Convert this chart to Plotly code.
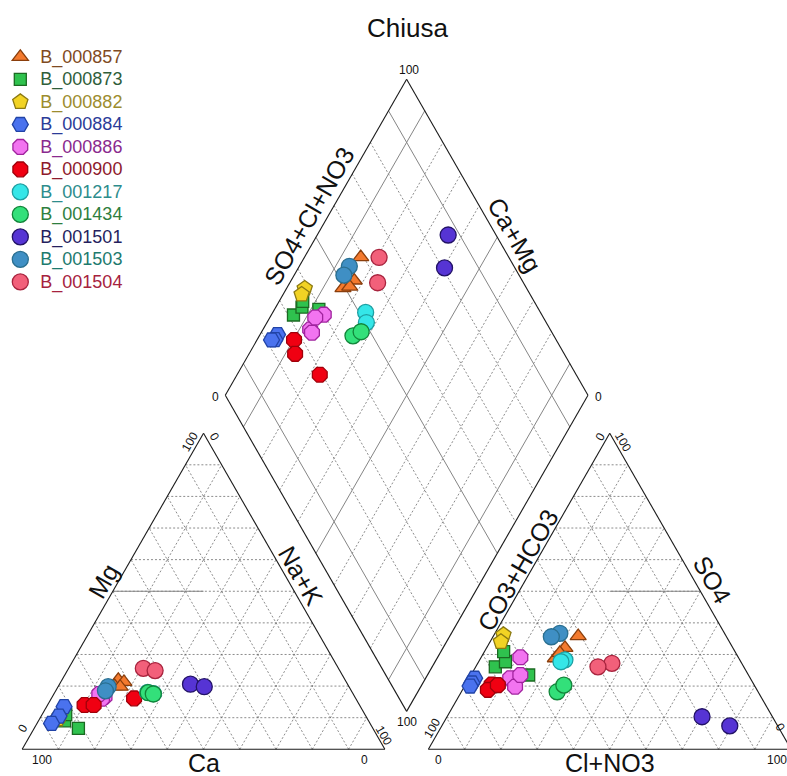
import numpy as np
import plotly.graph_objects as go

# ---------------- data (percent of meq) ----------------
sample_ids = ["B_000857", "B_000873", "B_000882", "B_000884", "B_000886", "B_000900",
              "B_001217", "B_001434", "B_001501", "B_001503", "B_001504"]

mg_pct = [[22.0, 21.3, 20.0, 19.8], [10.0, 9.0, 11.0, 6.6], [9.5, 10.5], [13.5, 10.5, 8.2],
          [16.6, 17.2, 16.0, 17.5], [14.0, 14.0, 16.1], [18.0, 17.6], [17.9, 17.5],
          [20.6, 19.8], [19.8, 18.5], [25.6, 24.9]]
nak_pct = [[15.5, 17.4, 15.5, 17.1], [6.1, 7.2, 6.5, 12.2], [5.0, 5.1], [4.8, 4.9, 4.0],
           [14.4, 13.0, 14.0, 12.5], [10.2, 12.7, 22.8], [25.6, 27.4], [25.8, 27.4],
           [36.1, 40.3], [13.8, 13.7], [20.6, 24.2]]
so4_pct = [[35.8, 32.1, 28.8, 30.5], [26.1, 27.7, 30.9, 23.5], [36.2, 34.0], [22.5, 21.0, 20.0],
           [29.1, 22.5, 19.8, 23.5], [20.5, 18.8, 20.3], [28.3, 27.7], [18.2, 20.3],
           [7.4, 10.3], [36.7, 35.6], [27.2, 26.1]]
clno3_pct = [[23.4, 21.6, 20.6, 21.0], [5.4, 7.4, 5.3, 15.9], [2.6, 3.0], [1.5, 1.5, 1.5],
             [10.8, 11.3, 14.0, 13.6], [7.2, 7.0, 9.0], [23.5, 22.7], [26.4, 27.2],
             [79.4, 70.3], [17.9, 16.1], [37.0, 33.7]]

symbols = ["triangle-up", "square", "pentagon", "hexagon2", "octagon", "octagon",
           "circle", "circle", "circle", "circle", "circle"]
sizes = [14, 12, 16, 16, 16, 16, 16, 16, 16, 16, 16]
fills = ["#F37A2E", "#2FC24E", "#F2D324", "#4A72EE", "#F274F0", "#F00012",
         "#35E6E8", "#33E07A", "#5634D4", "#3F8FC4", "#F2607A"]
edges = ["#8A3E0C", "#1B6A22", "#8C7A12", "#2143A6", "#A0239E", "#A0000A",
         "#1E9FA2", "#12853A", "#221266", "#2A6F90", "#A8243E"]
label_colors = ["#7F4A22", "#2F5E3A", "#9C8C2E", "#2B3B98", "#8A2A8E", "#8E1A2C",
                "#2D8C8C", "#2E7E3E", "#251F5E", "#1D7A6E", "#A6223E"]

# ---------------- geometry ----------------
S3 = np.sqrt(3) / 2
GAP = 12.0
OX = 100 + GAP


def cat_xy(mg, nak):
    mg = np.asarray(mg); nak = np.asarray(nak)
    return nak + mg / 2, mg * S3


def an_xy(so4, cl):
    so4 = np.asarray(so4); cl = np.asarray(cl)
    return OX + cl + so4 / 2, so4 * S3


def dia_xy(nak, s):
    nak = np.asarray(nak); s = np.asarray(s)
    return (nak + OX + s) / 2, S3 * (OX + s - nak)


fig = go.Figure()


def add_lines(segs, color, width, dash):
    xs, ys = [], []
    for (x0, y0), (x1, y1) in segs:
        xs += [x0, x1, None]
        ys += [y0, y1, None]
    fig.add_trace(go.Scatter(x=xs, y=ys, mode="lines", hoverinfo="skip", showlegend=False,
                             line=dict(color=color, width=width, dash=dash)))


def p(f, *a):
    x, y = f(*a)
    return float(x), float(y)


DIA_SOLID = (10, 50, 90)
grid = []
for k in range(10, 100, 10):
    # cation triangle
    grid.append((p(cat_xy, k, 0), p(cat_xy, k, 100 - k)))       # Mg = k
    grid.append((p(cat_xy, 0, k), p(cat_xy, 100 - k, k)))       # Na = k
    grid.append((p(cat_xy, 0, 100 - k), p(cat_xy, 100 - k, 0)))  # Ca = k
    # anion triangle
    grid.append((p(an_xy, k, 0), p(an_xy, k, 100 - k)))
    grid.append((p(an_xy, 0, k), p(an_xy, 100 - k, k)))
    grid.append((p(an_xy, 0, 100 - k), p(an_xy, 100 - k, 0)))
    # diamond
    if k not in DIA_SOLID:
        grid.append((p(dia_xy, k, 0), p(dia_xy, k, 100)))
        grid.append((p(dia_xy, 0, k), p(dia_xy, 100, k)))
add_lines(grid, "#6e6e6e", 0.8, "2px,2px")

solid = [(p(cat_xy, 50, 0), p(cat_xy, 50, 25)),
         (p(an_xy, 50, 25), p(an_xy, 50, 50))]
for k in DIA_SOLID:
    solid.append((p(dia_xy, k, 0), p(dia_xy, k, 100)))
    solid.append((p(dia_xy, 0, k), p(dia_xy, 100, k)))
add_lines(solid, "#858585", 1.0, "solid")

outline = [
    (p(cat_xy, 0, 0), p(cat_xy, 0, 100)), (p(cat_xy, 0, 100), p(cat_xy, 100, 0)),
    (p(cat_xy, 100, 0), p(cat_xy, 0, 0)),
    (p(an_xy, 0, 0), p(an_xy, 0, 100)), (p(an_xy, 0, 100), p(an_xy, 100, 0)),
    (p(an_xy, 100, 0), p(an_xy, 0, 0)),
    (p(dia_xy, 100, 0), p(dia_xy, 0, 0)), (p(dia_xy, 0, 0), p(dia_xy, 0, 100)),
    (p(dia_xy, 0, 100), p(dia_xy, 100, 100)), (p(dia_xy, 100, 100), p(dia_xy, 100, 0)),
]
add_lines(outline, "#1a1a1a", 1.1, "solid")

# ---------------- samples ----------------
for i, sid in enumerate(sample_ids):
    mg = np.array(mg_pct[i]); na = np.array(nak_pct[i])
    so4 = np.array(so4_pct[i]); cl = np.array(clno3_pct[i])
    cx, cy = cat_xy(mg, na)
    ax, ay = an_xy(so4, cl)
    dx, dy = dia_xy(na, so4 + cl)
    fig.add_trace(go.Scatter(
        x=np.concatenate([cx, ax, dx]), y=np.concatenate([cy, ay, dy]),
        mode="markers", cliponaxis=False,
        name=f"<span style='color:{label_colors[i]};font-size:18px'>{sid}</span>",
        marker=dict(symbol=symbols[i], size=sizes[i], color=fills[i],
                    line=dict(color=edges[i], width=1.3)),
    ))

# ---------------- text ----------------
FONT = "Arial, Liberation Sans, sans-serif"
PX = 3.65
X0 = 17.3
Y0 = 749.3


def tx(px):
    return (px - X0) / PX


def ty(py):
    return (Y0 - py) / PX


ann = []


def label(px, py, text, size, angle=0):
    ann.append(dict(x=tx(px), y=ty(py), xref="x", yref="y", text=text, showarrow=False,
                    textangle=angle, font=dict(family=FONT, size=size, color="#111111"),
                    xanchor="center", yanchor="middle"))


label(405, 28, "Chiusa", 26)
label(306, 216, "SO4+Cl+NO3", 25, -60)
label(513, 235, "Ca+Mg", 25, 60)
label(99, 581, "Mg", 25, -60)
label(298, 576, "Na+K", 25, 60)
label(200, 763, "Ca", 25)
label(516, 570, "CO3+HCO3", 25, -60)
label(712, 580, "SO4", 25, 60)
label(609, 763, "Cl+NO3", 25)

T = 12
label(407, 70, "100", T)
label(212, 397, "0", T)
label(597, 397, "0", T)
label(405, 722, "100", T)
label(186, 442, "100", T, -60)
label(211, 437, "0", T, 60)
label(18, 728, "0", T, -60)
label(37, 760, "100", T)
label(362, 760, "0", T)
label(381, 735, "100", T, 60)
label(599, 437, "0", T, -60)
label(622, 442, "100", T, 60)
label(430, 728, "100", T, -60)
label(436, 760, "0", T)
label(777, 760, "100", T)
label(780, 727, "0", T, 60)

fig.update_layout(
    width=787, height=776,
    margin=dict(l=0, r=0, t=0, b=0),
    paper_bgcolor="white", plot_bgcolor="white",
    xaxis=dict(range=[tx(0), tx(787)], visible=False, fixedrange=True),
    yaxis=dict(range=[ty(776), ty(0)], visible=False, fixedrange=True),
    annotations=ann,
    showlegend=True,
    legend=dict(x=-0.006, y=0.9476, xanchor="left", yanchor="top",
                font=dict(family=FONT, size=15), bgcolor="rgba(0,0,0,0)",
                itemsizing="trace", tracegroupgap=0),
)

fig.write_html("out.html", config={"displayModeBar": False},
               post_script="document.body.style.margin='0px';")
